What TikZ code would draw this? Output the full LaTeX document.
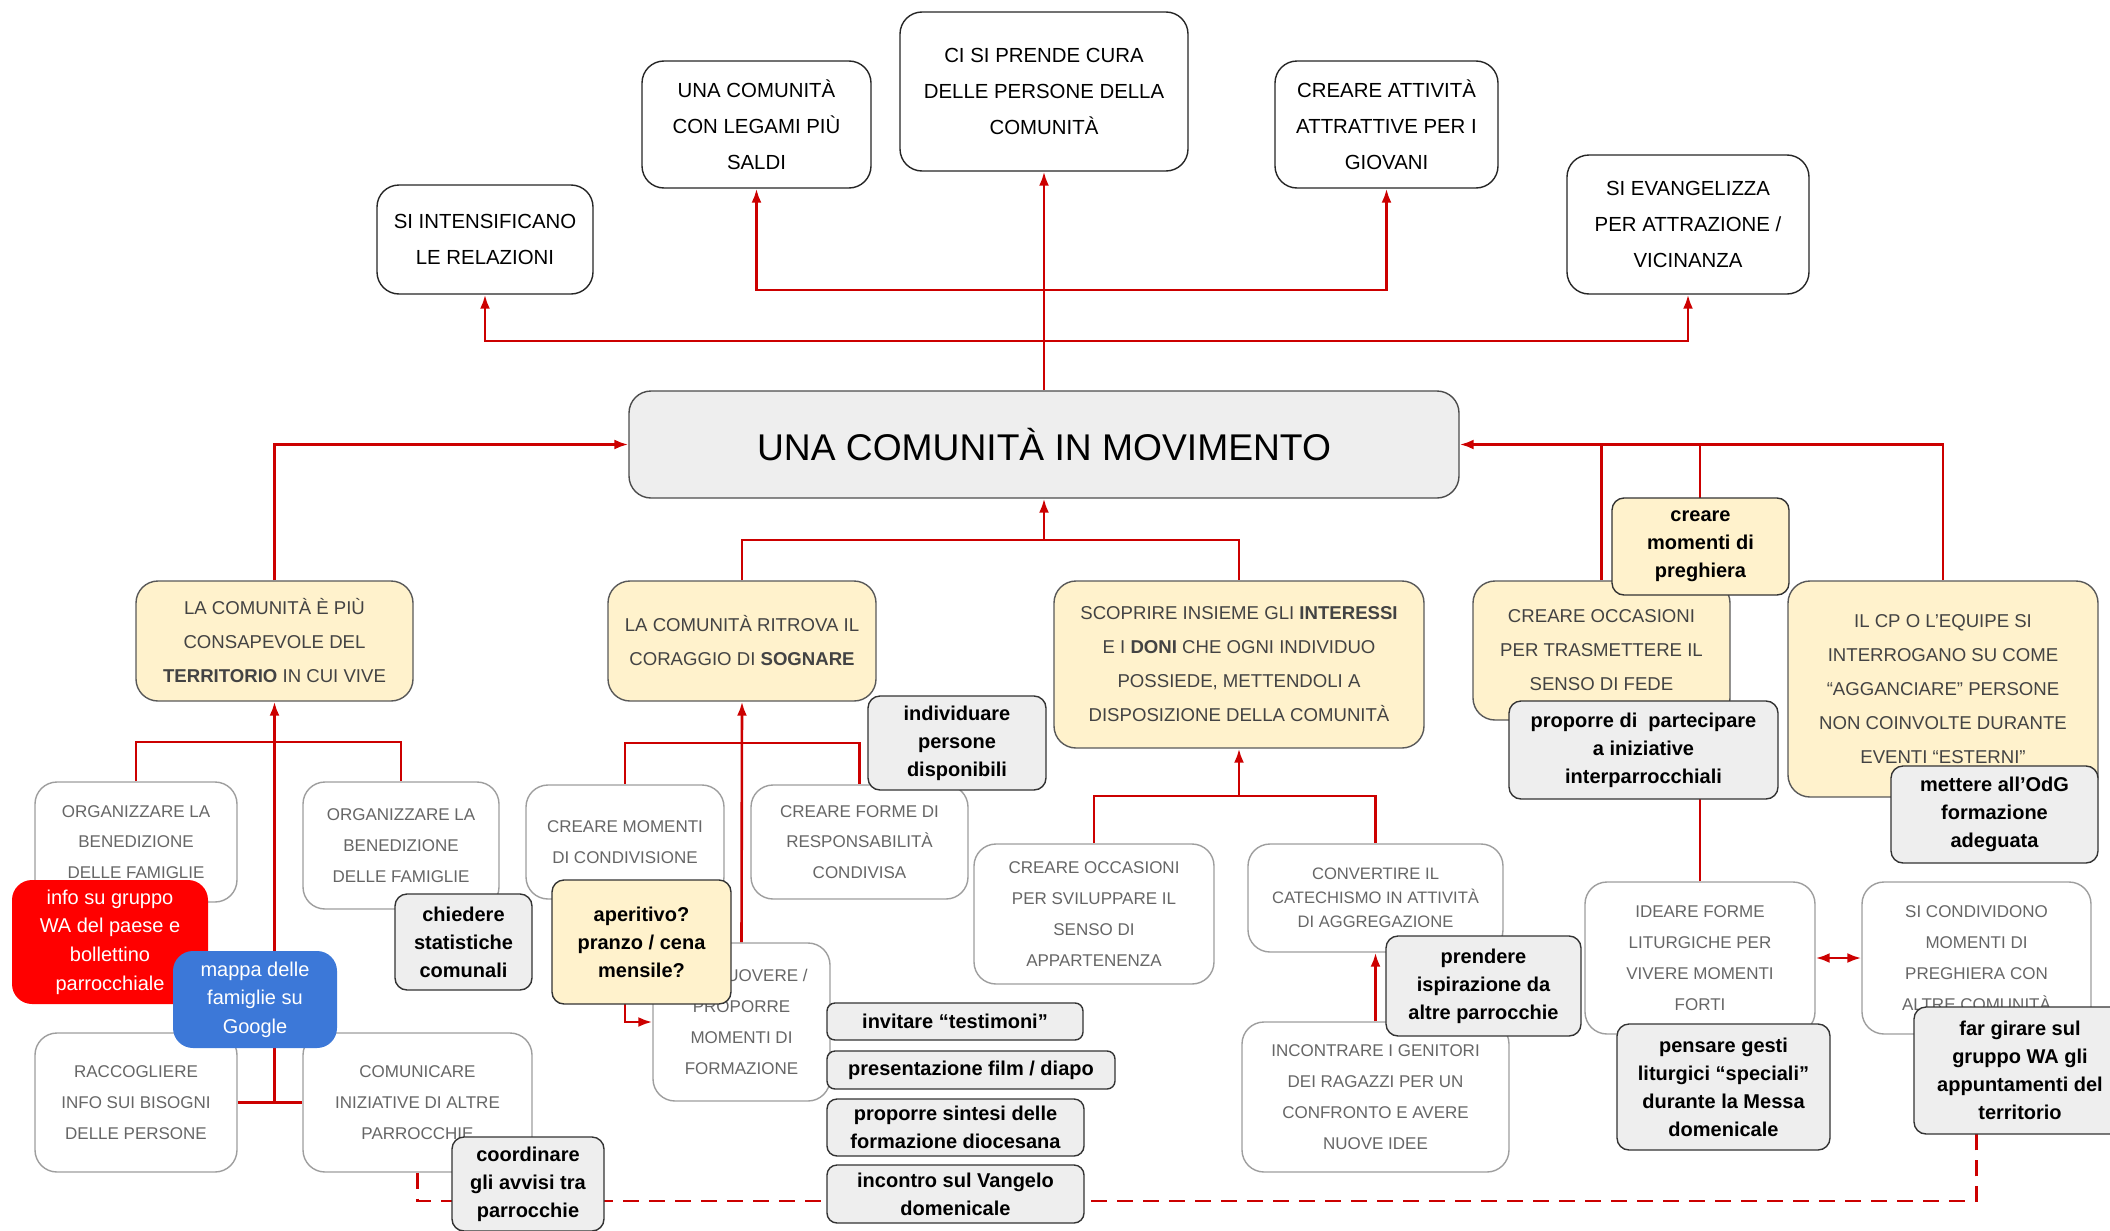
\documentclass[tikz,border=0pt]{standalone}
\usepackage{fontspec}
\setmainfont{Liberation Sans}
\usetikzlibrary{arrows.meta}

\definecolor{linkred}{HTML}{CC0000}
\definecolor{goalfill}{HTML}{FFF2CC}
\definecolor{ideafill}{HTML}{EEEEEE}
\definecolor{wared}{HTML}{FF0000}
\definecolor{mapblue}{HTML}{3C78D8}
\definecolor{steptext}{HTML}{666666}
\definecolor{stepline}{HTML}{9E9E9E}
\definecolor{goaltext}{HTML}{434343}

\pgfdeclarelayer{bg}
\pgfsetlayers{bg,main}

\begin{document}
\begin{tikzpicture}[x=0.5pt,y=-0.5pt,>={Latex[length=7pt,width=5pt]},
    box/.style={align=center,inner sep=0pt,line width=0.7pt},
    outcome/.style={box,draw=black!85,fill=white,rounded corners=11pt,font={\fontsize{10.2}{18}\selectfont}},
    mainbox/.style={box,draw=black!70,fill=ideafill,rounded corners=11pt,font={\fontsize{18.6}{22}\selectfont}},
    goal/.style={box,draw=black!65,fill=goalfill,text=goaltext,rounded corners=11pt,font={\fontsize{9.3}{17}\selectfont}},
    stepbox/.style={box,draw=stepline,fill=white,text=steptext,rounded corners=11pt,font={\fontsize{8.5}{15.4}\selectfont}},
    idea/.style={box,draw=black!80,fill=ideafill,rounded corners=6pt,font={\bfseries\fontsize{10}{14}\selectfont}},
    ideagoal/.style={idea,fill=goalfill},
    tag/.style={box,rounded corners=10pt,text=white,font={\fontsize{10}{14.3}\selectfont}},
    link/.style={draw=linkred,line width=1.3pt}]
    \useasboundingbox (0,0) rectangle (2110,1231);
    \clip (0,0) rectangle (2110,1231);

    % outcomes on top
    \node[outcome,minimum width=108pt,minimum height=54.5pt] (rel) at (485,239.5) {SI INTENSIFICANO\\LE RELAZIONI};
    \node[outcome,minimum width=114.5pt,minimum height=63.5pt] (legami) at (756.5,124.5) {UNA COMUNITÀ\\CON LEGAMI PIÙ\\SALDI};
    \node[outcome,minimum width=144pt,minimum height=79.5pt] (cura) at (1044,91.5) {CI SI PRENDE CURA\\DELLE PERSONE DELLA\\COMUNITÀ};
    \node[outcome,minimum width=111.5pt,minimum height=63.5pt] (attiv) at (1386.5,124.5) {CREARE ATTIVITÀ\\ATTRATTIVE PER I\\GIOVANI};
    \node[outcome,minimum width=121pt,minimum height=69.5pt] (evang) at (1688,224.5) {SI EVANGELIZZA\\PER ATTRAZIONE /\\VICINANZA};

    \node[mainbox,minimum width=415pt,minimum height=53.5pt] (main) at (1044,444.5) {UNA COMUNITÀ IN MOVIMENTO};

    % goals
    \node[goal,minimum width=138.5pt,minimum height=60pt] (terr) at (274.5,641) {LA COMUNITÀ È PIÙ\\CONSAPEVOLE DEL\\\textbf{TERRITORIO} IN CUI VIVE};
    \node[goal,minimum width=134pt,minimum height=60pt] (sogn) at (742,641) {LA COMUNITÀ RITROVA IL\\CORAGGIO DI \textbf{SOGNARE}};
    \node[goal,minimum width=185pt,minimum height=83.5pt] (scop) at (1239,664.5) {SCOPRIRE INSIEME GLI \textbf{INTERESSI}\\E I \textbf{DONI} CHE OGNI INDIVIDUO\\POSSIEDE, METTENDOLI A\\DISPOSIZIONE DELLA COMUNITÀ};
    \node[goal,minimum width=128.5pt,minimum height=69.5pt] (fede) at (1601.5,650.5) {CREARE OCCASIONI\\PER TRASMETTERE IL\\SENSO DI FEDE};
    \node[goal,minimum width=155pt,minimum height=108pt] (cp) at (1943,689) {IL CP O L'EQUIPE SI\\INTERROGANO SU COME\\“AGGANCIARE” PERSONE\\NON COINVOLTE DURANTE\\EVENTI “ESTERNI”};
    \node[ideagoal,minimum width=88.5pt,minimum height=48.5pt] (pregh) at (1700.5,546.5) {creare\\momenti di\\preghiera};
    \node[idea,minimum width=134.5pt,minimum height=49pt] (partec) at (1643.5,750) {proporre di\ \ partecipare\\a iniziative\\interparrocchiali};
    \node[idea,minimum width=103.5pt,minimum height=48.5pt] (odg) at (1994.5,814.5) {mettere all’OdG\\formazione\\adeguata};

    % steps
    \node[stepbox,minimum width=101pt,minimum height=60pt] (org1) at (136,842) {ORGANIZZARE LA\\BENEDIZIONE\\DELLE FAMIGLIE};
    \node[stepbox,minimum width=98pt,minimum height=63.5pt] (org2) at (401,845.5) {ORGANIZZARE LA\\BENEDIZIONE\\DELLE FAMIGLIE};
    \node[stepbox,minimum width=101pt,minimum height=69.5pt] (racc) at (136,1102.5) {RACCOGLIERE\\INFO SUI BISOGNI\\DELLE PERSONE};
    \node[stepbox,minimum width=114.5pt,minimum height=69.5pt] (comun) at (417.5,1102.5) {COMUNICARE\\INIZIATIVE DI ALTRE\\PARROCCHIE};
    \node[stepbox,minimum width=99pt,minimum height=57pt] (condiv) at (625,842) {CREARE MOMENTI\\DI CONDIVISIONE};
    \node[stepbox,minimum width=108.5pt,minimum height=57pt] (resp) at (859.5,842) {CREARE FORME DI\\RESPONSABILITÀ\\CONDIVISA};
    \node[stepbox,minimum width=88.5pt,minimum height=79pt] (promo) at (741.5,1022) {PROMUOVERE /\\PROPORRE\\MOMENTI DI\\FORMAZIONE};
    \node[stepbox,minimum width=120pt,minimum height=70pt] (svil) at (1094,914) {CREARE OCCASIONI\\PER SVILUPPARE IL\\SENSO DI\\APPARTENENZA};
    \node[stepbox,minimum width=127.5pt,minimum height=54pt,font={\fontsize{8.3}{12}\selectfont}] (conv) at (1375.5,898) {CONVERTIRE IL\\CATECHISMO IN ATTIVITÀ\\DI AGGREGAZIONE};
    \node[stepbox,minimum width=133.5pt,minimum height=75pt] (genit) at (1375.5,1097) {INCONTRARE I GENITORI\\DEI RAGAZZI PER UN\\CONFRONTO E AVERE\\NUOVE IDEE};
    \node[stepbox,minimum width=115pt,minimum height=76pt] (ideare) at (1700,958) {IDEARE FORME\\LITURGICHE PER\\VIVERE MOMENTI\\FORTI};
    \node[stepbox,minimum width=114.5pt,minimum height=76pt] (condmom) at (1976.5,958) {SI CONDIVIDONO\\MOMENTI DI\\PREGHIERA CON\\ALTRE COMUNITÀ};

    % ideas laid over the steps
    \node[tag,fill=wared,minimum width=98pt,minimum height=62pt] (wa) at (110,942) {info su gruppo\\WA del paese e\\bollettino\\parrocchiale};
    \node[tag,fill=mapblue,minimum width=82pt,minimum height=48.5pt] (mappa) at (255,999.5) {mappa delle\\famiglie su\\Google};
    \node[idea,minimum width=68.5pt,minimum height=48pt] (stat) at (463.5,942) {chiedere\\statistiche\\comunali};
    \node[idea,minimum width=76pt,minimum height=47pt] (avvisi) at (528,1184) {coordinare\\gli avvisi tra\\parrocchie};
    \node[ideagoal,minimum width=89.5pt,minimum height=62pt] (aper) at (641.5,942) {aperitivo?\\pranzo / cena\\mensile?};
    \node[idea,minimum width=89pt,minimum height=47pt] (indiv) at (957,743) {individuare\\persone\\disponibili};
    \node[idea,rounded corners=4pt,minimum width=128pt,minimum height=18.5pt] (testim) at (955,1021.5) {invitare “testimoni”};
    \node[idea,rounded corners=4pt,minimum width=144pt,minimum height=19pt] (film) at (971,1070) {presentazione film / diapo};
    \node[idea,rounded corners=5pt,minimum width=128.5pt,minimum height=28.5pt] (sintesi) at (955.5,1127.5) {proporre sintesi delle\\formazione diocesana};
    \node[idea,rounded corners=5pt,minimum width=128.5pt,minimum height=29pt] (vangelo) at (955.5,1194) {incontro sul Vangelo\\domenicale};
    \node[idea,minimum width=97.5pt,minimum height=50pt] (ispir) at (1483.5,986) {prendere\\ispirazione da\\altre parrocchie};
    \node[idea,minimum width=106.5pt,minimum height=63pt] (gesti) at (1723.5,1087) {pensare gesti\\liturgici “speciali”\\durante la Messa\\domenicale};
    \node[idea,minimum width=106pt,minimum height=63.5pt] (girare) at (2020,1070.5) {far girare sul\\gruppo WA gli\\appuntamenti del\\territorio};

    % connectors
    \begin{pgfonlayer}{bg}
      \coordinate (forktop) at (main.north |- 0,290);
      \coordinate (forkwide) at (main.north |- 0,341);
      \draw[link,->] (main.north) -- (cura.south);
      \draw[link,->] (forktop) -| (legami.south);
      \draw[link,->] (forktop) -| (attiv.south);
      \draw[link,->] (forkwide) -| (rel.south);
      \draw[link,->] (forkwide) -| (evang.south);

      \draw[link,->] (terr.north) |- (main.west);
      \draw[link,->] (cp.north) |- (main.east);
      \draw[link] (fede.north) -- (fede.north |- main.east);
      \draw[link] (ideare.north) -- (ideare.north |- main.east);

      \coordinate (forkmid) at (main.south |- 0,540);
      \draw[link,->] (forkmid) -- (main.south);
      \draw[link] (sogn.north) |- (forkmid) -| (scop.north);

      \coordinate (forkterr) at (terr.south |- 0,742);
      \draw[link] (org1.north) |- (forkterr) -| (org2.north);
      \draw[link] (racc.east) -- (comun.west);
      \draw[link,->] (terr.south |- racc.east) -- (terr.south);

      \coordinate (forksogn) at (sogn.south |- 0,743);
      \draw[link] (condiv.north) |- (forksogn) -| (resp.north);
      \draw[link,->] (promo.north) -- (sogn.south);
      \draw[link,->] (condiv.south) |- (promo.west);

      \coordinate (forkscop) at (scop.south |- 0,796);
      \draw[link] (svil.north) |- (forkscop) -| (conv.north);
      \draw[link,->] (forkscop) -- (scop.south);
      \draw[link,->] (genit.north) -- (conv.south);

      \draw[link,<->] (ideare.east) -- (condmom.west);

      \coordinate (dashturn) at (comun.south |- 0,1201);
      \draw[link,line width=1.1pt,dash pattern=on 8pt off 5pt] (comun.south) -- (dashturn) -| (condmom.south);
    \end{pgfonlayer}
\end{tikzpicture}
\end{document}
